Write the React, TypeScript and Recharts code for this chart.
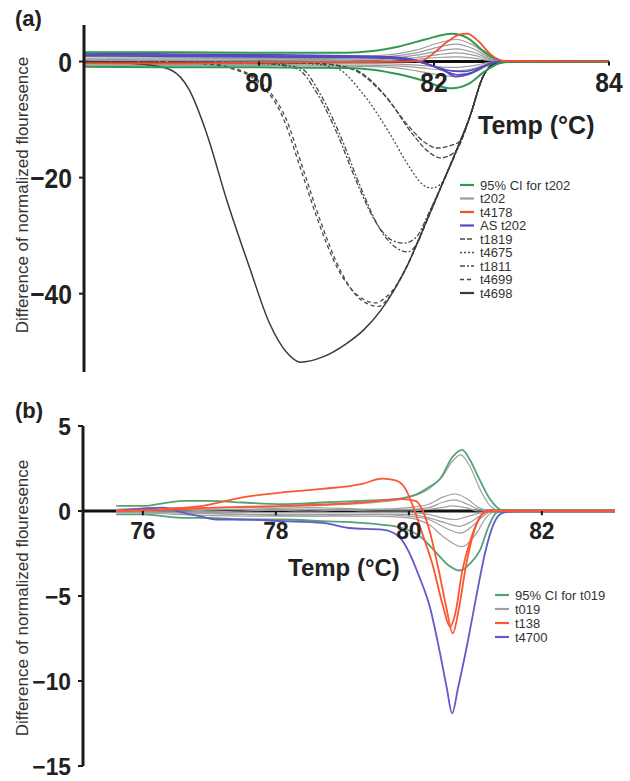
import { LineChart, Line, XAxis, YAxis, ReferenceLine, ReferenceDot } from "recharts";

type P = [number, number][];

// ---------- panel (a) ----------
const aXTicks = [80, 82, 84];
const aYTicks = [0, -20, -40];

const aCiUpper: P = [[78, 1.6], [79, 1.6], [80, 1.5], [81, 1.5], [81.3, 1.8], [81.6, 2.6], [81.9, 3.8], [82.2, 4.8], [82.38, 4.1], [82.55, 2.0], [82.7, 0.5], [82.85, 0], [84, 0]];
const aCiLower: P = [[78, -0.9], [79, -1.0], [80, -1.0], [81, -1.1], [81.3, -1.4], [81.6, -2.2], [81.9, -3.4], [82.05, -4.2], [82.2, -4.6], [82.4, -3.8], [82.58, -1.7], [82.75, -0.3], [82.9, 0], [84, 0]];

const aT202: P[] = [
  [[78, 0.9], [79, 0.8], [80, 0.8], [81, 0.9], [81.5, 1.2], [81.8, 2.0], [82.05, 3.2], [82.25, 3.8], [82.45, 2.8], [82.62, 1.0], [82.78, 0.1], [82.9, 0], [84, 0]],
  [[78, 0.6], [79, 0.6], [80, 0.5], [81, 0.6], [81.5, 0.9], [81.8, 1.5], [82.05, 2.5], [82.25, 3.0], [82.45, 2.2], [82.62, 0.8], [82.78, 0.1], [82.9, 0], [84, 0]],
  [[78, 0.4], [79, 0.3], [80, 0.3], [81, 0.4], [81.5, 0.6], [81.8, 1.1], [82.05, 1.8], [82.25, 2.2], [82.45, 1.6], [82.62, 0.6], [82.78, 0.1], [82.9, 0], [84, 0]],
  [[78, 0.2], [79, 0.2], [80, 0.1], [81, 0.2], [81.5, 0.4], [81.8, 0.7], [82.05, 1.2], [82.25, 1.5], [82.45, 1.1], [82.62, 0.4], [82.78, 0], [84, 0]],
  [[78, 0], [79, 0], [80, -0.1], [81, 0], [81.5, 0.2], [81.8, 0.4], [82.05, 0.7], [82.25, 0.8], [82.45, 0.6], [82.62, 0.2], [82.78, 0], [84, 0]],
  [[78, -0.2], [79, -0.3], [80, -0.3], [81, -0.3], [81.5, -0.4], [81.8, -0.6], [82.05, -0.9], [82.25, -1.0], [82.45, -0.7], [82.62, -0.2], [82.78, 0], [84, 0]],
  [[78, -0.4], [79, -0.5], [80, -0.5], [81, -0.6], [81.5, -0.7], [81.8, -1.0], [82.05, -1.4], [82.25, -1.6], [82.45, -1.2], [82.62, -0.4], [82.78, 0], [84, 0]],
  [[78, -0.6], [79, -0.7], [80, -0.7], [81, -0.8], [81.5, -1.0], [81.8, -1.6], [82.05, -2.3], [82.25, -2.6], [82.45, -1.9], [82.62, -0.7], [82.78, -0.1], [82.9, 0], [84, 0]],
];

const aT4178: P = [[78, -0.3], [79, -0.3], [80, -0.2], [81, -0.1], [81.7, 0], [81.85, 0.1], [82.0, 1.5], [82.15, 3.4], [82.3, 4.7], [82.38, 4.8], [82.5, 3.6], [82.65, 1.2], [82.8, 0.1], [84, 0]];

const aAsT202: P[] = [
  [[78, 1.5], [79, 1.3], [80, 1.2], [81, 1.0], [81.5, 0.8], [81.8, 0.2], [82.0, -0.9], [82.15, -1.8], [82.28, -2.3], [82.45, -1.8], [82.6, -0.6], [82.75, 0], [84, 0]],
  [[78, 1.2], [79, 1.1], [80, 1.0], [81, 0.9], [81.5, 0.6], [81.8, 0], [82.0, -0.8], [82.2, -1.6], [82.35, -1.7], [82.5, -1.2], [82.65, -0.3], [82.8, 0], [84, 0]],
  [[78, 1.0], [79, 0.9], [80, 0.8], [81, 0.7], [81.6, 0.5], [81.9, -0.3], [82.1, -1.4], [82.25, -2.6], [82.4, -2.2], [82.55, -1.0], [82.7, -0.1], [82.85, 0], [84, 0]],
];

const aT1819: P[] = [
  [[78, 0], [80.6, -0.3], [81.04, -1.2], [81.41, -5.4], [81.72, -11.3], [81.9, -14.0], [82.04, -14.9], [82.16, -14.6], [82.3, -13.7], [82.41, -9.5], [82.56, -2.6], [82.7, -0.3], [82.85, 0], [84, 0]],
  [[78, 0], [80.65, -0.3], [81.08, -1.3], [81.45, -6.0], [81.76, -12.6], [81.94, -15.6], [82.08, -16.6], [82.2, -16.0], [82.27, -15.0], [82.41, -9.5], [82.56, -2.6], [82.7, -0.3], [82.85, 0], [84, 0]],
];
const aT4675: P[] = [
  [[78, 0], [80.5, -0.3], [80.89, -1.2], [81.18, -5.4], [81.49, -12.3], [81.72, -18.2], [81.87, -21.2], [81.97, -21.8], [82.07, -21.2], [82.18, -18.2], [82.3, -13.8], [82.41, -9.5], [82.56, -2.6], [82.7, -0.3], [82.85, 0], [84, 0]],
];
const aT1811: P[] = [
  [[78, 0], [80.0, -0.3], [80.43, -1.2], [80.66, -5.4], [80.89, -12.3], [81.12, -20.9], [81.34, -27.8], [81.52, -30.8], [81.66, -31.3], [81.8, -30.2], [81.95, -25.8], [82.1, -20.9], [82.26, -15.2], [82.41, -9.5], [82.56, -2.6], [82.7, -0.3], [82.85, 0], [84, 0]],
  [[78, 0], [80.05, -0.3], [80.48, -1.2], [80.7, -5.6], [80.93, -12.8], [81.16, -21.6], [81.38, -28.8], [81.56, -32.0], [81.7, -32.8], [81.82, -31.0], [81.95, -26.0], [82.1, -20.9], [82.26, -15.2], [82.41, -9.5], [82.56, -2.6], [82.7, -0.3], [82.85, 0], [84, 0]],
];
const aT4699: P[] = [
  [[78, 0], [79.3, -0.3], [79.63, -1.0], [80.0, -3.7], [80.27, -9.5], [80.47, -18.2], [80.66, -26.8], [80.89, -35.4], [81.12, -40.2], [81.34, -41.6], [81.45, -40.6], [81.55, -39.0], [81.7, -35.0], [81.85, -29.8], [82.0, -24.5], [82.1, -20.9], [82.26, -15.2], [82.41, -9.5], [82.56, -2.6], [82.7, -0.3], [82.85, 0], [84, 0]],
  [[78, 0], [79.34, -0.3], [79.67, -1.0], [80.04, -3.9], [80.31, -9.9], [80.51, -18.8], [80.7, -27.4], [80.93, -36.0], [81.16, -41.0], [81.37, -42.2], [81.47, -40.9], [81.55, -39.2], [81.7, -35.0], [81.85, -29.8], [82.0, -24.5], [82.1, -20.9], [82.26, -15.2], [82.41, -9.5], [82.56, -2.6], [82.7, -0.3], [82.85, 0], [84, 0]],
];
const aT4698: P[] = [
  [[78, 0], [78.4, -0.2], [78.75, -0.6], [79, -1.5], [79.2, -4.8], [79.4, -12.3], [79.63, -23.8], [79.89, -35.4], [80.12, -45.1], [80.32, -50.2], [80.47, -51.8], [80.73, -50.9], [81.0, -48.6], [81.2, -46.2], [81.4, -42.7], [81.55, -39.2], [81.7, -35.0], [81.85, -29.8], [82.0, -24.5], [82.1, -20.9], [82.26, -15.2], [82.41, -9.5], [82.56, -2.6], [82.7, -0.3], [82.85, 0], [84, 0]],
];

// ---------- panel (b) ----------
const bXTicks = [76, 78, 80, 82];
const bYTicks = [5, 0, -5, -10, -15];

const bCiUpper: P = [[75.6, 0.3], [76.0, 0.3], [76.6, 0.6], [77.0, 0.6], [77.5, 0.5], [78.1, 0.4], [78.7, 0.5], [79.3, 0.6], [79.8, 0.7], [80.06, 0.9], [80.3, 1.4], [80.47, 1.9], [80.66, 3.2], [80.8, 3.6], [80.92, 3.0], [81.02, 2.2], [81.12, 1.4], [81.22, 0.7], [81.33, 0.2], [81.45, 0], [83.1, 0]];
const bCiLower: P = [[75.6, -0.2], [76.0, -0.2], [76.6, -0.4], [77.0, -0.4], [77.5, -0.5], [78.1, -0.5], [78.7, -0.6], [79.3, -0.7], [79.57, -0.8], [79.9, -1.0], [80.17, -1.5], [80.4, -2.4], [80.6, -3.2], [80.77, -3.5], [80.92, -3.1], [81.07, -2.3], [81.2, -0.9], [81.32, -0.1], [81.45, 0], [83.1, 0]];

const bT019: P[] = [
  [[75.6, 0.1], [76.5, 0.2], [77.5, 0.2], [78.5, 0.3], [79.5, 0.5], [80.0, 0.8], [80.3, 1.3], [80.5, 2.0], [80.65, 2.9], [80.78, 3.3], [80.92, 2.6], [81.08, 1.2], [81.25, 0.2], [81.4, 0], [83.1, 0]],
  [[75.6, 0], [76.5, 0.1], [77.5, 0.1], [78.5, 0.2], [79.5, 0.1], [80.0, 0.2], [80.3, 0.4], [80.5, 0.8], [80.7, 1.0], [80.88, 0.7], [81.05, 0.2], [81.25, 0], [83.1, 0]],
  [[75.6, 0], [76.5, 0], [77.5, 0.1], [78.5, 0], [79.5, 0.1], [80.0, 0.1], [80.3, 0.2], [80.5, 0.5], [80.68, 0.65], [80.88, 0.4], [81.05, 0.1], [81.25, 0], [83.1, 0]],
  [[75.6, 0], [76.5, -0.1], [77.5, 0], [78.5, 0.1], [79.5, 0], [80.0, 0], [80.3, 0.1], [80.5, 0.2], [80.65, 0.3], [80.85, 0.2], [81.05, 0], [83.1, 0]],
  [[75.6, 0], [76.5, 0], [77.5, -0.1], [78.5, -0.1], [79.5, -0.1], [80.0, -0.1], [80.3, -0.2], [80.5, -0.4], [80.7, -0.5], [80.9, -0.3], [81.1, -0.1], [81.25, 0], [83.1, 0]],
  [[75.6, -0.1], [76.5, -0.1], [77.5, -0.2], [78.5, -0.2], [79.5, -0.2], [80.0, -0.2], [80.3, -0.4], [80.55, -0.7], [80.75, -0.9], [80.95, -0.6], [81.15, -0.1], [81.3, 0], [83.1, 0]],
  [[75.6, 0], [76.5, -0.2], [77.5, -0.3], [78.5, -0.3], [79.5, -0.2], [80.0, -0.3], [80.3, -0.5], [80.55, -1.0], [80.78, -1.3], [80.98, -0.8], [81.15, -0.2], [81.3, 0], [83.1, 0]],
  [[75.6, 0], [76.5, -0.1], [77.5, -0.2], [78.5, -0.3], [79.5, -0.3], [80.0, -0.4], [80.3, -0.8], [80.55, -1.6], [80.8, -2.1], [81.0, -1.4], [81.18, -0.3], [81.32, 0], [83.1, 0]],
];

const bT138: P[] = [
  [[75.6, 0], [76.3, 0.1], [76.9, 0.3], [77.5, 0.8], [78.1, 1.1], [78.7, 1.3], [79.3, 1.6], [79.6, 1.9], [79.8, 1.8], [79.95, 1.3], [80.06, 0.3], [80.2, -1.3], [80.36, -3.2], [80.5, -5.4], [80.62, -6.8], [80.7, -6.0], [80.8, -3.6], [80.92, -1.8], [81.05, -0.5], [81.17, 0], [83.1, 0]],
  [[75.6, 0], [76.5, 0.1], [77.1, 0.2], [78.1, 0.3], [79.3, 0.5], [79.9, 0.7], [80.1, 0.6], [80.2, 0.1], [80.3, -1.0], [80.45, -3.5], [80.56, -5.6], [80.66, -7.2], [80.75, -5.8], [80.86, -3.2], [80.98, -1.2], [81.1, -0.2], [81.22, 0], [83.1, 0]],
];

const bT4700: P[] = [
  [[75.6, 0], [76.3, 0.2], [76.6, -0.1], [76.9, -0.35], [77.1, -0.5], [77.5, -0.5], [78.1, -0.6], [78.7, -0.7], [79.1, -1.0], [79.6, -1.1], [79.85, -1.5], [80.0, -2.4], [80.15, -3.8], [80.32, -5.7], [80.45, -8.0], [80.57, -10.4], [80.65, -11.9], [80.74, -10.4], [80.89, -7.6], [81.03, -4.7], [81.15, -2.4], [81.27, -0.8], [81.42, -0.1], [81.6, 0], [83.1, 0]],
];

type Series = { name: string; color: string; width: number; dash?: string; curves: P[] };

const aSeries: Series[] = [
  { name: "t202", color: "#9c9c9c", width: 1.2, curves: aT202 },
  { name: "t1819", color: "#484848", width: 1.3, dash: "5 2", curves: aT1819 },
  { name: "t4675", color: "#484848", width: 1.3, dash: "2 2", curves: aT4675 },
  { name: "t1811", color: "#484848", width: 1.3, dash: "5 2 2 2", curves: aT1811 },
  { name: "t4699", color: "#484848", width: 1.3, dash: "4 3", curves: aT4699 },
  { name: "t4698", color: "#3a3a3a", width: 1.5, curves: aT4698 },
  { name: "AS t202", color: "#5548c0", width: 1.6, curves: aAsT202 },
  { name: "95% CI for t202", color: "#2f9a50", width: 2, curves: [aCiUpper, aCiLower] },
  { name: "t4178", color: "#f2502e", width: 1.8, curves: [aT4178] },
];
const aLegend = ["95% CI for t202", "t202", "t4178", "AS t202", "t1819", "t4675", "t1811", "t4699", "t4698"];

const bSeries: Series[] = [
  { name: "t019", color: "#a0a0a0", width: 1.2, curves: bT019 },
  { name: "95% CI for t019", color: "#55a275", width: 1.8, curves: [bCiUpper, bCiLower] },
  { name: "t4700", color: "#6459c8", width: 1.8, curves: bT4700 },
  { name: "t138", color: "#ff5533", width: 1.8, curves: bT138 },
];
const bLegend = ["95% CI for t019", "t019", "t138", "t4700"];

const pts = (c: P) => c.map(([T, V]) => ({ T, V }));
const fmt = (v: number) => (v < 0 ? `\u2212${-v}` : `${v}`);

const textFont = "'Liberation Sans', Arial, sans-serif";

// bold, slightly condensed numerals like the original figure
function Num({ x, y, value, size, squeeze, anchor }: { x: number; y: number; value: string; size: number; squeeze: number; anchor: "end" | "middle" }) {
  return (
    <text
      transform={`translate(${x},${y}) scale(${squeeze},1)`}
      textAnchor={anchor}
      fontSize={size}
      fontWeight={700}
      fontFamily={textFont}
      fill="#222"
    >
      {value}
    </text>
  );
}

function Panel(props: {
  top: number;
  height: number;
  margin: { top: number; right: number; bottom: number; left: number };
  yWidth: number;
  xDomain: [number, number];
  yDomain: [number, number];
  xTicks: number[];
  yTicks: number[];
  tickLen: number;
  numSize: number;
  squeeze: number;
  labelGap: number;
  series: Series[];
}) {
  const { top, height, margin, yWidth, xDomain, yDomain, xTicks, yTicks, tickLen, numSize, squeeze, labelGap, series } = props;
  const cap = numSize * 0.72;
  return (
    <div style={{ position: "absolute", left: 0, top }}>
      <LineChart width={630} height={height} margin={margin} style={{ overflow: "visible" }}>
        <XAxis type="number" dataKey="T" domain={xDomain} allowDataOverflow hide />
        <YAxis
          type="number"
          domain={yDomain}
          ticks={yTicks}
          allowDataOverflow
          interval={0}
          width={yWidth}
          axisLine={{ stroke: "#1a1a1a", strokeWidth: 3 }}
          tickLine={{ stroke: "#1a1a1a", strokeWidth: 2 }}
          tickSize={5}
          tickMargin={7}
          tick={(p: any) => (
            <Num x={p.x} y={p.y + cap / 2} value={fmt(p.payload.value)} size={numSize} squeeze={squeeze} anchor="end" />
          )}
        />
        <ReferenceLine y={0} stroke="#111" strokeWidth={3} />
        {series.flatMap((s) =>
          s.curves.map((c, i) => (
            <Line
              key={`${s.name}-${i}`}
              data={pts(c)}
              dataKey="V"
              type="monotone"
              stroke={s.color}
              strokeWidth={s.width}
              strokeDasharray={s.dash}
              dot={false}
              activeDot={false}
              isAnimationActive={false}
            />
          ))
        )}
        {xTicks.map((t) => (
          <ReferenceLine
            key={`tk${t}`}
            segment={[{ x: t, y: 0 }, { x: t, y: -tickLen }]}
            stroke="#111"
            strokeWidth={2}
            ifOverflow="visible"
          />
        ))}
        {xTicks.map((t) => (
          <ReferenceDot
            key={`lb${t}`}
            x={t}
            y={0}
            r={0}
            fill="none"
            stroke="none"
            ifOverflow="visible"
            label={{
              position: "bottom",
              content: (lp: any) => {
                const vb = lp.viewBox || {};
                return <Num x={vb.x} y={vb.y + labelGap + cap} value={`${t}`} size={numSize} squeeze={squeeze} anchor="middle" />;
              },
            }}
          />
        ))}
      </LineChart>
    </div>
  );
}

function Legend({ names, series, x, y, step }: { names: string[]; series: Series[]; x: number; y: number; step: number }) {
  return (
    <g>
      {names.map((n, i) => {
        const s = series.find((q) => q.name === n)!;
        const cy = y + i * step;
        return (
          <g key={n}>
            <line x1={x} x2={x + 14} y1={cy} y2={cy} stroke={s.color} strokeWidth={s.dash ? 1.3 : 2.2} strokeDasharray={s.dash} />
            <text x={x + 20} y={cy + 4.5} fontSize={13} fill="#333" fontFamily={textFont}>
              {n}
            </text>
          </g>
        );
      })}
    </g>
  );
}

export default function App() {
  const yLabel = "Difference of normalized flouresence";
  return (
    <div style={{ position: "absolute", left: 0, top: 0, width: 630, height: 781, background: "#fff" }}>
      <Panel
        top={0}
        height={400}
        margin={{ top: 25, right: 21, bottom: 28, left: 0 }}
        yWidth={84}
        xDomain={[78, 84]}
        yDomain={[-53.5, 6.3]}
        xTicks={aXTicks}
        yTicks={aYTicks}
        tickLen={0.7}
        numSize={28}
        squeeze={0.88}
        labelGap={10}
        series={aSeries}
      />
      <Panel
        top={400}
        height={381}
        margin={{ top: 26, right: 15, bottom: 15, left: 0 }}
        yWidth={83}
        xDomain={[75.1, 83.1]}
        yDomain={[-15, 5]}
        xTicks={bXTicks}
        yTicks={bYTicks}
        tickLen={0.25}
        numSize={24}
        squeeze={0.95}
        labelGap={11}
        series={bSeries}
      />
      <svg width={630} height={781} style={{ position: "absolute", left: 0, top: 0, pointerEvents: "none" }}>
        <text x={15} y={26} fontSize={22} fontWeight={700} fontFamily={textFont} fill="#222">(a)</text>
        <text x={15} y={418} fontSize={22} fontWeight={700} fontFamily={textFont} fill="#222">(b)</text>
        <text transform="translate(28,195) rotate(-90)" textAnchor="middle" fontSize={17} fontFamily={textFont} fill="#333">
          {yLabel}
        </text>
        <text transform="translate(28,598) rotate(-90)" textAnchor="middle" fontSize={17} fontFamily={textFont} fill="#333">
          {yLabel}
        </text>
        <text x={478} y={134} fontSize={25} fontWeight={700} fontFamily={textFont} fill="#222">Temp (°C)</text>
        <text x={288} y={576} fontSize={24} fontWeight={700} fontFamily={textFont} fill="#222">Temp (°C)</text>
        <Legend names={aLegend} series={aSeries} x={460} y={185} step={13.5} />
        <Legend names={bLegend} series={bSeries} x={495} y={595} step={14} />
      </svg>
    </div>
  );
}
